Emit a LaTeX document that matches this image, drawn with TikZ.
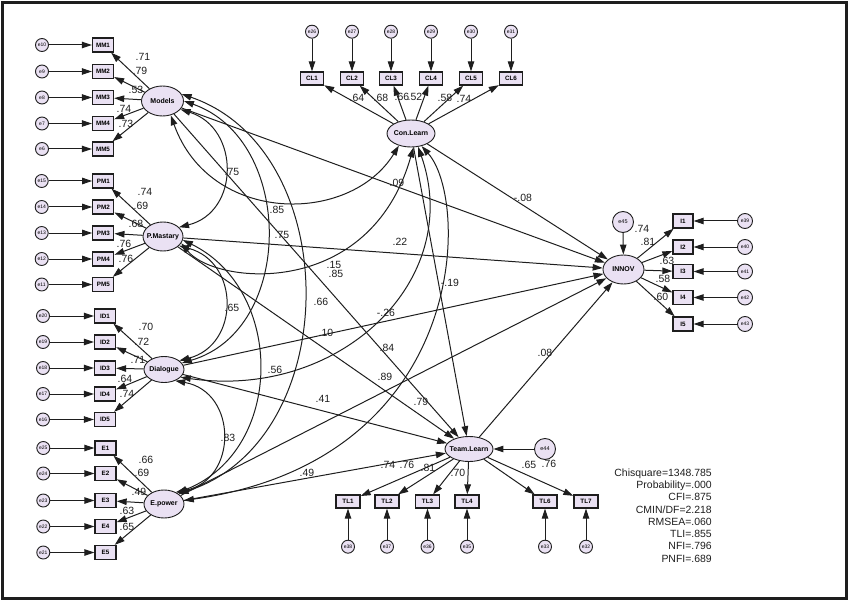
\documentclass[tikz,border=0pt]{standalone}
\usepackage{fontspec}
\setmainfont{Liberation Sans}
\usetikzlibrary{arrows.meta,shapes.geometric}
\definecolor{lav}{RGB}{234,225,243}
\definecolor{ink}{RGB}{30,30,30}
\newcommand\zwbox[1]{\makebox[0pt]{#1}}
\tikzset{
 lat/.style={ellipse,draw=ink,line width=0.9bp,fill=lav,inner sep=0pt,font=\fontsize{7}{8}\selectfont\bfseries},
 obs/.style={rectangle,draw=ink,line width=1.3bp,fill=lav,inner sep=0pt,minimum width=21bp,minimum height=14bp,font=\fontsize{6.3}{7}\selectfont\bfseries},
 err/.style={circle,draw=ink,line width=0.9bp,fill=lav,inner sep=0pt,minimum size=13bp,font=\fontsize{5}{6}\selectfont},
 arr/.style={-{Triangle[length=10bp,width=6.5bp]},line width=1bp,draw=ink},
 corr/.style={{Triangle[length=10bp,width=6.5bp]}-{Triangle[length=10bp,width=6.5bp]},line width=1bp,draw=ink},
 lbl/.style={font=\fontsize{10.5}{12}\selectfont,text=ink,inner sep=0pt},
}
\begin{document}
\begin{tikzpicture}[x=1bp,y=-1bp]
\useasboundingbox (0,0) rectangle (850,603);
\draw[line width=3bp,ink] (2.5,2.5) rectangle (846.5,598.5);

% latent variables
\node[lat,minimum width=42bp,minimum height=30bp] (Mod) at (162.5,101) {\zwbox{Models}};
\node[lat,minimum width=40bp,minimum height=29bp] (PM) at (163,236.5) {\zwbox{P.Mastary}};
\node[lat,minimum width=40bp,minimum height=26bp] (Dia) at (164,369.5) {\zwbox{Dialogue}};
\node[lat,minimum width=40bp,minimum height=28bp] (Epw) at (164,504) {\zwbox{E.power}};
\node[lat,minimum width=48bp,minimum height=27bp] (Con) at (411,133.5) {\zwbox{Con.Learn}};
\node[lat,minimum width=41bp,minimum height=29bp] (Inn) at (623.5,269.5) {\zwbox{INNOV}};
\node[lat,minimum width=48bp,minimum height=25bp] (Tlr) at (469,449) {\zwbox{Team.Learn}};

% Models indicators
\foreach \nn/\yy/\en/\lx/\ly/\val in {1/45/e10/143/57/.71,2/71.5/e9/140/71/.79,3/97.5/e8/136/90/.53,4/123.5/e7/124/109/.74,5/149/e6/126/124/.73}{
 \node[obs] (MM\nn) at (103,\yy) {MM\nn};
 \node[err] (eM\nn) at (42,\yy) {\en};
 \draw[arr] (eM\nn) -- (MM\nn);
 \draw[arr] (Mod) -- (MM\nn);
 \node[lbl] (lM\nn) at (\lx,\ly) {\val};
}
% P.Mastary indicators
\foreach \nn/\yy/\en/\lx/\ly/\val in {1/181/e15/145/192/.74,2/207/e14/141/206/.69,3/233/e13/136/224/.68,4/259/e12/124/244/.76,5/284.5/e11/126/259/.76}{
 \node[obs] (PM\nn) at (103.3,\yy) {PM\nn};
 \node[err] (eP\nn) at (41.7,\yy) {\en};
 \draw[arr] (eP\nn) -- (PM\nn);
 \draw[arr] (PM) -- (PM\nn);
 \node[lbl] (lP\nn) at (\lx,\ly) {\val};
}
% Dialogue indicators
\foreach \nn/\yy/\en/\lx/\ly/\val in {1/316/e20/146/327/.70,2/342/e19/142/342/.72,3/368/e18/138/360/.71,4/394/e17/125/379/.64,5/419.5/e16/127/394/.74}{
 \node[obs] (ID\nn) at (105,\yy) {ID\nn};
 \node[err] (eD\nn) at (43,\yy) {\en};
 \draw[arr] (eD\nn) -- (ID\nn);
 \draw[arr] (Dia) -- (ID\nn);
 \node[lbl] (lD\nn) at (\lx,\ly) {\val};
}
% E.power indicators
\foreach \nn/\yy/\en/\lx/\ly/\val in {1/448/e25/146/460/.66,2/473.5/e24/142/473/.69,3/500.5/e23/139/492/.49,4/526.5/e22/127/511/.63,5/552.5/e21/127/527/.65}{
 \node[obs] (E\nn) at (105.5,\yy) {E\nn};
 \node[err] (eE\nn) at (43.3,\yy) {\en};
 \draw[arr] (eE\nn) -- (E\nn);
 \draw[arr] (Epw) -- (E\nn);
 \node[lbl] (lE\nn) at (\lx,\ly) {\val};
}
% Con.Learn indicators
\foreach \nn/\xx/\en/\lx/\ly/\val in {1/312/e26/357/98/.64,2/352/e27/381/98/.68,3/391/e28/402/97/.66,4/431/e29/415/97/.52,5/471/e30/445/98/.58,6/511/e31/464/99/.74}{
 \node[obs,minimum width=23bp,minimum height=13bp] (CL\nn) at (\xx,78.5) {CL\nn};
 \node[err] (eC\nn) at (\xx,31.7) {\en};
 \draw[arr] (eC\nn) -- (CL\nn);
 \draw[arr] (Con) -- (CL\nn);
 \node[lbl] (lC\nn) at (\lx,\ly) {\val};
}
% INNOV indicators
\foreach \nn/\yy/\en/\lx/\ly/\val in {1/221/e39/642/229/.74,2/247/e40/648/242/.81,3/271.5/e41/667/261/.63,4/297.5/e42/663/279/.58,5/324/e43/661/297/.60}{
 \node[obs,minimum width=20bp] (I\nn) at (683,\yy) {I\nn};
 \node[err,minimum size=15bp] (eI\nn) at (745,\yy) {\en};
 \draw[arr] (eI\nn) -- (I\nn);
 \draw[arr] (Inn) -- (I\nn);
 \node[lbl] (lI\nn) at (\lx,\ly) {\val};
}
% Team.Learn indicators
\foreach \nn/\xx/\en/\lx/\ly/\val in {1/348/e38/388/465/.74,2/387/e37/407/465/.76,3/427.5/e36/428/468/.81,4/467/e35/458/473/.70,6/545/e33/529/465/.65,7/586/e32/549/464/.76}{
 \node[obs,minimum width=24bp,minimum height=13bp] (TL\nn) at (\xx,501.5) {TL\nn};
 \node[err] (eT\nn) at (\xx,546.7) {\en};
 \draw[arr] (eT\nn) -- (TL\nn);
 \draw[arr] (Tlr) -- (TL\nn);
 \node[lbl] (lT\nn) at (\lx,\ly) {\val};
}
% disturbances
\node[err,minimum size=21bp,font=\fontsize{5.5}{6}\selectfont] (e44) at (545,449) {e44};
\node[err,minimum size=21bp,font=\fontsize{5.5}{6}\selectfont] (e45) at (623,222) {e45};
\draw[arr] (e44) -- (Tlr);
\draw[arr] (e45) -- (Inn);

% structural paths
\draw[arr] (Mod) -- (Tlr);
\draw[arr] (PM) -- (Tlr);
\draw[arr] (Dia) -- (Tlr);
\draw[arr] (Epw) -- (Tlr);
\draw[arr] (Con) -- (Tlr);
\draw[arr] (Mod) -- (Inn);
\draw[arr] (PM) -- (Inn);
\draw[arr] (Dia) -- (Inn);
\draw[arr] (Epw) -- (Inn);
\draw[arr] (Con) -- (Inn);
\draw[arr] (Tlr) -- (Inn);

% correlations
\draw[corr] (Mod.-25) .. controls (240,128) and (240,212) .. (PM.30);
\draw[corr] (PM.-30) .. controls (240,262) and (240,345) .. (Dia.30);
\draw[corr] (Dia.-45) .. controls (238,392) and (238,480) .. (Epw.45);
\draw[corr] (Mod.-60) .. controls (210,225) and (350,225) .. (Con.-135);
\draw[corr] (PM.-20) .. controls (215,285) and (370,300) .. (Con.-80);
\draw[corr] (Mod.0) .. controls (295,140) and (295,330) .. (Dia.20);
\draw[corr] (Mod.20) .. controls (345,150) and (345,440) .. (Epw.35);
\draw[corr] (PM.-10) .. controls (285,290) and (285,450) .. (Epw.40);
\draw[corr] (Dia.-25) .. controls (340,400) and (465,280) .. (Con.-62);
\draw[corr] (Epw.10) .. controls (470,460) and (470,200) .. (Con.-50);

% coefficient labels
\node[lbl] (cMP) at (232,172) {.75};
\node[lbl] (cPD) at (232,308) {.65};
\node[lbl] (cDE) at (228,438) {.83};
\node[lbl] (cMC) at (277,210) {.85};
\node[lbl] (cPC) at (334,265) {.15};
\node[lbl] (cMD) at (282,235) {.75};
\node[lbl] (cME) at (321,302) {.66};
\node[lbl] (cPE) at (275,370) {.56};
\node[lbl] (cDC) at (386,313) {-.26};
\node[lbl] (cEC) at (421,402) {.79};
\node[lbl] (pMT) at (336,274) {.85};
\node[lbl] (pPT) at (387,348) {.84};
\node[lbl] (pEI) at (385,377) {.89};
\node[lbl] (pDT) at (323,399) {.41};
\node[lbl] (pET) at (307,473) {.49};
\node[lbl] (pCT) at (450,283) {-.19};
\node[lbl] (pMI) at (397,183) {.09};
\node[lbl] (pPI) at (400,242) {.22};
\node[lbl] (pDI) at (326,333) {.10};
\node[lbl] (pCI) at (523,198) {-.08};
\node[lbl] (pTI) at (545,353) {.08};

% fit statistics
\node[lbl,align=right,anchor=north east,font=\fontsize{10.5}{12.3}\selectfont] (fit) at (712,468.5)
 {Chisquare=1348.785\\Probability=.000\\CFI=.875\\CMIN/DF=2.218\\RMSEA=.060\\TLI=.855\\NFI=.796\\PNFI=.689};
\end{tikzpicture}
\end{document}
